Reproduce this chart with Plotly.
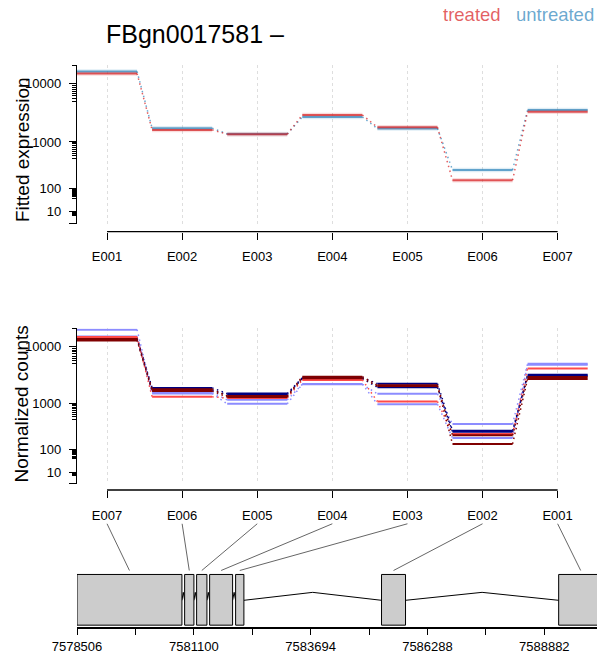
import numpy as np
import plotly.graph_objects as go

# ---------------- data ----------------
exon_ids = ["E001", "E002", "E003", "E004", "E005", "E006", "E007"]
fitted_treated = [14480, 1635, 1376, 2948, 1817, 168, 3359]
fitted_untreated = [15640, 1750, 1390, 2725, 1727, 287, 3575]

count_axis_labels = ["E007", "E006", "E005", "E004", "E003", "E002", "E001"]
treated1 = [14360, 1327, 1263, 2639, 1092, 246, 4176]
treated2 = [13285, 1810, 1372, 3010, 2127, 230, 2973]
treated3 = [12535, 1683, 1316, 2835, 2060, 142, 2745]
untreated1 = [19030, 1583, 1172, 2213, 1501, 402, 5020]
untreated2 = [14635, 1520, 991, 2232, 975, 199, 4830]
untreated3 = [13805, 1916, 1520, 2891, 2277, 292, 3258]
untreated4 = [13020, 1717, 1458, 2779, 1962, 275, 3130]

gene_exon_ids = ["E007", "E006", "E005", "E004", "E003", "E002", "E001"]
gene_exon_start = [7578506, 7580896, 7581162, 7581451, 7582028, 7585268, 7589201]
gene_exon_end = [7580836, 7581102, 7581391, 7581961, 7582212, 7585801, 7590179]
gene_start, gene_end = 7578506, 7590179

y_tick_values = [0, 10, 100, 1000, 10000, 20000]
y_tick_labels = ["", "10", "100", "1000", "10000", ""]

# ---------------- helpers ----------------
W, H = 597, 654
ML = 77
FONT = "Liberation Sans, Arial, Helvetica, sans-serif"


def vst(v):
    return 2 * np.arcsinh(np.sqrt(np.asarray(v, dtype=float) / 200.0))


def yp(px):
    return 1 - px / H


def xp(px):
    return (px - ML) / (W - ML)


n = len(exon_ids)
region_px = 525.7
unit_px = region_px / n
x_max = (W - ML) / unit_px
gene_x_max = gene_start + (W - ML) / (region_px / (gene_end - gene_start))
seg_w = 0.8
centers = [i + seg_w / 2 for i in range(n)]

minor_vals = []
for d in [10, 100, 1000, 10000]:
    minor_vals += list(d * np.arange(0.5, 0.999, 0.06))
minor_vals += [20000]

fig = go.Figure()


def seg_xy(vals):
    xs, ys = [], []
    for i, v in enumerate(vals):
        t = float(vst(v))
        xs += [i, i + seg_w, None]
        ys += [t, t, None]
    return xs, ys


def conn_xy(vals):
    xs, ys = [], []
    for i in range(len(vals) - 1):
        xs += [i + seg_w, i + 1, None]
        ys += [float(vst(vals[i])), float(vst(vals[i + 1])), None]
    return xs, ys


DOTS = "1.5px,3.5px"

# ---------------- panel 1: fitted expression ----------------
fit_series = [("untreated", fitted_untreated, (43, 131, 186)),
              ("treated", fitted_treated, (215, 25, 28))]
for name, vals, c in fit_series:
    xs, ys = seg_xy(vals)
    fig.add_trace(go.Scatter(x=xs, y=ys, mode="lines", xaxis="x", yaxis="y",
                             line=dict(color=f"rgba({c[0]},{c[1]},{c[2]},0.15)", width=4.5),
                             hoverinfo="skip", showlegend=False))
for name, vals, c in fit_series:
    xs, ys = seg_xy(vals)
    fig.add_trace(go.Scatter(x=xs, y=ys, mode="lines", xaxis="x", yaxis="y",
                             line=dict(color=f"rgba({c[0]},{c[1]},{c[2]},0.7)", width=2),
                             name=name, showlegend=False))
    cx, cy = conn_xy(vals)
    fig.add_trace(go.Scatter(x=cx, y=cy, mode="lines", xaxis="x", yaxis="y",
                             line=dict(color=f"rgba({c[0]},{c[1]},{c[2]},0.7)", width=1.5, dash=DOTS),
                             hoverinfo="skip", showlegend=False))

# ---------------- panel 2: normalized counts ----------------
light_red, dark_red = "#FF4A4A", "#800000"
light_blue, navy = "#8C8CFF", "#000080"
count_series = [
    ("untreated2", untreated2, light_blue),
    ("untreated1", untreated1, light_blue),
    ("untreated4", untreated4, navy),
    ("untreated3", untreated3, navy),
    ("treated1", treated1, light_red),
    ("treated3", treated3, dark_red),
    ("treated2", treated2, dark_red),
]
for name, vals, col in count_series:
    xs, ys = seg_xy(vals)
    fig.add_trace(go.Scatter(x=xs, y=ys, mode="lines", xaxis="x2", yaxis="y2",
                             line=dict(color=col, width=2), name=name, showlegend=False))
    cx, cy = conn_xy(vals)
    fig.add_trace(go.Scatter(x=cx, y=cy, mode="lines", xaxis="x2", yaxis="y2",
                             line=dict(color=col, width=1.5, dash=DOTS),
                             hoverinfo="skip", showlegend=False))

# ---------------- panel 3: gene model ----------------
box_lo, box_hi, mid, peak = 2, 53, 27, 35
ix, iy = [], []
for i in range(len(gene_exon_start) - 1):
    a, b = gene_exon_end[i], gene_exon_start[i + 1]
    ix += [a, (a + b) / 2, b, None]
    iy += [mid, peak, mid, None]
fig.add_trace(go.Scatter(x=ix, y=iy, mode="lines", xaxis="x3", yaxis="y3",
                         line=dict(color="black", width=1), hoverinfo="skip", showlegend=False))
for s, e, name in zip(gene_exon_start, gene_exon_end, gene_exon_ids):
    fig.add_trace(go.Scatter(x=[s, e, e, s, s], y=[box_lo, box_lo, box_hi, box_hi, box_lo],
                             mode="lines", fill="toself", fillcolor="#CCCCCC",
                             line=dict(color="black", width=1), xaxis="x3", yaxis="y3",
                             name=name, showlegend=False))

gene_ticks = np.linspace(gene_start, gene_end, 10)
gene_tick_text = [str(int(round(v))) if i % 2 == 0 else "" for i, v in enumerate(gene_ticks)]

# ---------------- layout ----------------
common_x = dict(domain=[0, 1], range=[0, x_max], tickmode="array", tickvals=centers,
                ticks="outside", ticklen=7, tickwidth=1.3, tickcolor="black",
                ticklabelstandoff=6,
                showline=False, zeroline=False, showgrid=True, gridcolor="#dedede",
                griddash="dot", gridwidth=1, tickfont=dict(size=13, color="black", family=FONT))
common_y = dict(range=[0, float(vst(20000))], tickmode="array",
                tickvals=[float(v) for v in vst(y_tick_values)], ticktext=y_tick_labels,
                ticks="outside", ticklen=7, tickwidth=1.3, tickcolor="black",
                ticklabelstandoff=5,
                showline=True, linecolor="black", linewidth=1.3, showgrid=False, zeroline=False,
                tickfont=dict(size=13, color="black", family=FONT),
                minor=dict(tickmode="array", tickvals=[float(v) for v in vst(minor_vals)],
                           ticks="outside", ticklen=4, tickwidth=0.8, tickcolor="black", showgrid=False))

fig.update_layout(
    width=W, height=H, margin=dict(l=ML, r=0, t=0, b=0),
    paper_bgcolor="white", plot_bgcolor="white", showlegend=False,
    font=dict(family=FONT, color="black"),
    xaxis=dict(common_x, ticktext=exon_ids, anchor="free", position=yp(233)),
    yaxis=dict(common_y, domain=[yp(225), yp(65.5)], anchor="x"),
    xaxis2=dict(common_x, ticktext=count_axis_labels, anchor="free", position=yp(493)),
    yaxis2=dict(common_y, domain=[yp(486.5), yp(330.4)], anchor="x2"),
    xaxis3=dict(domain=[0, 1], range=[gene_start, gene_x_max], anchor="y3",
                tickmode="array", tickvals=list(gene_ticks), ticktext=gene_tick_text,
                ticks="outside", ticklen=6, tickwidth=1.3, tickcolor="black",
                showline=True, linecolor="black", linewidth=2, showgrid=False, zeroline=False,
                tickfont=dict(size=13, color="black", family=FONT)),
    yaxis3=dict(domain=[yp(631), yp(571)], range=[0, 60], anchor="x3", visible=False),
)

shapes = []
for ax_name, pos in [("x", yp(233)), ("x2", yp(493))]:
    shapes.append(dict(type="line", xref=ax_name, yref="paper", x0=centers[0], x1=centers[-1],
                       y0=pos, y1=pos, line=dict(color="black", width=1.3)))
for i, lab in enumerate(count_axis_labels):
    k = gene_exon_ids.index(lab)
    gc = (gene_exon_start[k] + gene_exon_end[k]) / 2
    shapes.append(dict(type="line", xref="paper", yref="paper",
                       x0=centers[i] / x_max, y0=yp(527),
                       x1=(gc - gene_start) / (gene_x_max - gene_start), y1=yp(574),
                       line=dict(color="#666666", width=1)))
fig.update_layout(shapes=shapes)

annotations = [
    dict(text="FBgn0017581 \u2013", x=xp(195), y=yp(34), xref="paper", yref="paper",
         showarrow=False, font=dict(size=25, family=FONT, color="black"), xanchor="center", yanchor="middle"),
    dict(text="treated", x=xp(472), y=yp(15), xref="paper", yref="paper", showarrow=False,
         font=dict(size=18.5, family=FONT, color="rgba(215,25,28,0.7)"), xanchor="center", yanchor="middle"),
    dict(text="untreated", x=xp(555), y=yp(15), xref="paper", yref="paper", showarrow=False,
         font=dict(size=18.5, family=FONT, color="rgba(43,131,186,0.7)"), xanchor="center", yanchor="middle"),
    dict(text="Fitted expression", x=xp(22), y=yp(151), xref="paper", yref="paper", showarrow=False,
         textangle=-90, font=dict(size=19, family=FONT, color="black"), xanchor="center", yanchor="middle"),
    dict(text="Normalized counts", x=xp(22), y=yp(407), xref="paper", yref="paper", showarrow=False,
         textangle=-90, font=dict(size=19, family=FONT, color="black"), xanchor="center", yanchor="middle"),
]
fig.update_layout(annotations=annotations)

post = ("document.documentElement.style.margin='0';document.body.style.margin='0';"
        "document.documentElement.style.overflow='hidden';document.body.style.overflow='hidden';")
fig.write_html("out.html", post_script=post, config={"displayModeBar": False})
